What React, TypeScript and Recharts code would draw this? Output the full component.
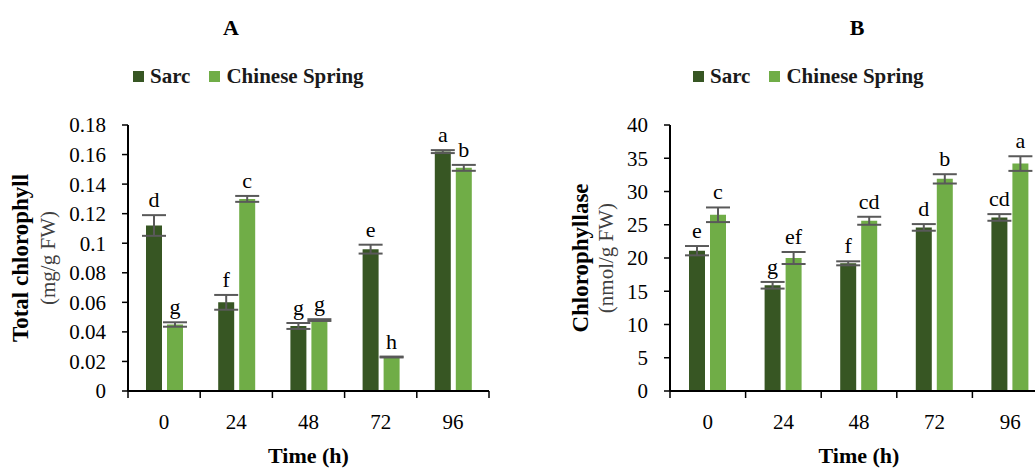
import React from 'react';
import { BarChart, Bar, XAxis, YAxis, ErrorBar, LabelList, Label } from 'recharts';

// ---------- data ----------
const times = ['0', '24', '48', '72', '96'];

// Panel A: Total chlorophyll (mg/g FW)
const chlSarc = [0.112, 0.06, 0.044, 0.096, 0.162];
const chlSarcErr = [0.007, 0.005, 0.002, 0.003, 0.001];
const chlSarcLetters = ['d', 'f', 'g', 'e', 'a'];
const chlCS = [0.045, 0.13, 0.048, 0.023, 0.151];
const chlCSErr = [0.0015, 0.002, 0.0006, 0.0003, 0.002];
const chlCSLetters = ['g', 'c', 'g', 'h', 'b'];
const chlTicks = [0, 0.02, 0.04, 0.06, 0.08, 0.1, 0.12, 0.14, 0.16, 0.18];

// Panel B: Chlorophyllase (nmol/g FW)
const clSarc = [21.1, 15.9, 19.2, 24.6, 26.1];
const clSarcErr = [0.7, 0.5, 0.3, 0.5, 0.5];
const clSarcLetters = ['e', 'g', 'f', 'd', 'cd'];
const clCS = [26.5, 20.0, 25.6, 31.9, 34.2];
const clCSErr = [1.1, 0.9, 0.6, 0.7, 1.1];
const clCSLetters = ['c', 'ef', 'cd', 'b', 'a'];
const clTicks = [0, 5, 10, 15, 20, 25, 30, 35, 40];

const seriesNames = ['Sarc', 'Chinese Spring'];

// ---------- style ----------
const SERIF = '"Liberation Serif", "Times New Roman", serif';
const SARC_COLOR = '#375623';
const CS_COLOR = '#70AD47';
const ERR_COLOR = '#595959';
const H = 468;

function buildRows(s: number[], se: number[], sl: string[], c: number[], ce: number[], cl: string[]) {
  return times.map((t, i) => ({
    time: t,
    sarc: s[i], sarcErr: se[i], sarcLet: sl[i],
    cs: c[i], csErr: ce[i], csLet: cl[i],
  }));
}

function letterContent(vals: number[], errs: number[]) {
  return (props: any) => {
    const vb = props.viewBox || props;
    const x = vb.x ?? props.x;
    const y = vb.y ?? props.y;
    const w = vb.width ?? props.width;
    const h = vb.height ?? props.height;
    const i = props.index;
    const v = vals[i];
    const pxPer = v ? h / v : 0;
    const errPx = errs[i] * pxPer;
    return (
      <text x={x + w / 2} y={y - errPx - 8} textAnchor="middle" fontFamily={SERIF} fontSize={22} fill="#000">
        {props.value}
      </text>
    );
  };
}

function xTick(band: number, count: number) {
  return (props: any) => {
    const { x, y, payload, index } = props;
    return (
      <g>
        <line x1={x - band / 2} x2={x - band / 2} y1={y} y2={y + 7} stroke="#000" strokeWidth={1.5} />
        {index === count - 1 ? (
          <line x1={x + band / 2} x2={x + band / 2} y1={y} y2={y + 7} stroke="#000" strokeWidth={1.5} />
        ) : null}
        <text x={x} y={y + 38} textAnchor="middle" fontFamily={SERIF} fontSize={21} fill="#000">
          {payload.value}
        </text>
      </g>
    );
  };
}

function LegendBox({ left }: { left: number }) {
  const colors = [SARC_COLOR, CS_COLOR];
  return (
    <div style={{ position: 'absolute', left, top: 64, display: 'flex', alignItems: 'center', fontFamily: SERIF, fontWeight: 'bold', fontSize: 21, color: '#1a1a1a', lineHeight: '24px', whiteSpace: 'nowrap' }}>
      {seriesNames.map((n, i) => (
        <div key={n} style={{ display: 'flex', alignItems: 'center', marginRight: 19 }}>
          <span style={{ display: 'inline-block', width: 11, height: 11, background: colors[i], marginRight: 6 }} />
          <span>{n}</span>
        </div>
      ))}
    </div>
  );
}

type PanelProps = {
  left: number;
  width: number;
  yAxisWidth: number;
  marginRight: number;
  rows: any[];
  max: number;
  ticks: number[];
  yTitle: string;
  ySub: string;
  boldX: number;
  subX: number;
  sarc: number[]; sarcErr: number[]; cs: number[]; csErr: number[];
};

function Panel(p: PanelProps) {
  const plotW = p.width - p.yAxisWidth - p.marginRight;
  const band = plotW / times.length;
  return (
    <div style={{ position: 'absolute', left: p.left, top: 0 }}>
      <BarChart
        width={p.width}
        height={H}
        data={p.rows}
        margin={{ top: 125, right: p.marginRight, bottom: 0, left: 0 }}
        barSize={16}
        barGap={5}
      >
        <XAxis
          dataKey="time"
          height={77}
          interval={0}
          tickLine={false}
          tickSize={0}
          tickMargin={0}
          axisLine={{ stroke: '#000', strokeWidth: 2 }}
          tick={xTick(band, times.length)}
        >
          <Label
            content={(lp: any) => {
              const vb = lp.viewBox;
              return (
                <text x={vb.x + vb.width / 2} y={vb.y + 72} textAnchor="middle" fontFamily={SERIF} fontWeight="bold" fontSize={22} fill="#000">
                  Time (h)
                </text>
              );
            }}
          />
        </XAxis>
        <YAxis
          width={p.yAxisWidth}
          domain={[0, p.max]}
          ticks={p.ticks}
          interval={0}
          allowDataOverflow
          tickSize={6}
          tickMargin={16}
          tickLine={{ stroke: '#000', strokeWidth: 1.5 }}
          axisLine={{ stroke: '#000', strokeWidth: 2 }}
          tick={{ fill: '#000', fontSize: 21, fontFamily: SERIF }}
          tickFormatter={(v: number) => String(v)}
        >
          <Label
            content={(lp: any) => {
              const vb = lp.viewBox;
              const cy = vb.y + vb.height / 2;
              return (
                <g>
                  <text x={vb.x + p.boldX} y={cy} transform={`rotate(-90 ${vb.x + p.boldX} ${cy})`} textAnchor="middle" dominantBaseline="central" fontFamily={SERIF} fontWeight="bold" fontSize={23} fill="#000">
                    {p.yTitle}
                  </text>
                  <text x={vb.x + p.subX} y={cy} transform={`rotate(-90 ${vb.x + p.subX} ${cy})`} textAnchor="middle" dominantBaseline="central" fontFamily={SERIF} fontSize={21} fill="#404040">
                    {p.ySub}
                  </text>
                </g>
              );
            }}
          />
        </YAxis>
        <Bar dataKey="sarc" name={seriesNames[0]} fill={SARC_COLOR} isAnimationActive={false}>
          <ErrorBar dataKey="sarcErr" width={12} stroke={ERR_COLOR} strokeWidth={2} />
          <LabelList dataKey="sarcLet" content={letterContent(p.sarc, p.sarcErr)} />
        </Bar>
        <Bar dataKey="cs" name={seriesNames[1]} fill={CS_COLOR} isAnimationActive={false}>
          <ErrorBar dataKey="csErr" width={12} stroke={ERR_COLOR} strokeWidth={2} />
          <LabelList dataKey="csLet" content={letterContent(p.cs, p.csErr)} />
        </Bar>
      </BarChart>
    </div>
  );
}

export default function App() {
  const rowsA = buildRows(chlSarc, chlSarcErr, chlSarcLetters, chlCS, chlCSErr, chlCSLetters);
  const rowsB = buildRows(clSarc, clSarcErr, clSarcLetters, clCS, clCSErr, clCSLetters);
  const titleStyle: React.CSSProperties = {
    position: 'absolute', top: 17, fontFamily: SERIF, fontWeight: 'bold', fontSize: 22, lineHeight: '22px', color: '#000', transform: 'translateX(-50%)',
  };
  return (
    <div style={{ position: 'fixed', left: 0, top: 0, width: 1035, height: H, overflow: 'hidden', background: '#fff' }}>
      <div style={{ ...titleStyle, left: 231 }}>A</div>
      <div style={{ ...titleStyle, left: 857 }}>B</div>
      <Panel
        left={0} width={520} yAxisWidth={128} marginRight={31}
        rows={rowsA} max={0.18} ticks={chlTicks}
        yTitle="Total chlorophyll" ySub="(mg/g FW)" boldX={20} subX={48}
        sarc={chlSarc} sarcErr={chlSarcErr} cs={chlCS} csErr={chlCSErr}
      />
      <Panel
        left={520} width={540} yAxisWidth={150} marginRight={12}
        rows={rowsB} max={40} ticks={clTicks}
        yTitle="Chlorophyllase" ySub="(nmol/g FW)" boldX={60} subX={86}
        sarc={clSarc} sarcErr={clSarcErr} cs={clCS} csErr={clCSErr}
      />
      <LegendBox left={133} />
      <LegendBox left={693} />
    </div>
  );
}
